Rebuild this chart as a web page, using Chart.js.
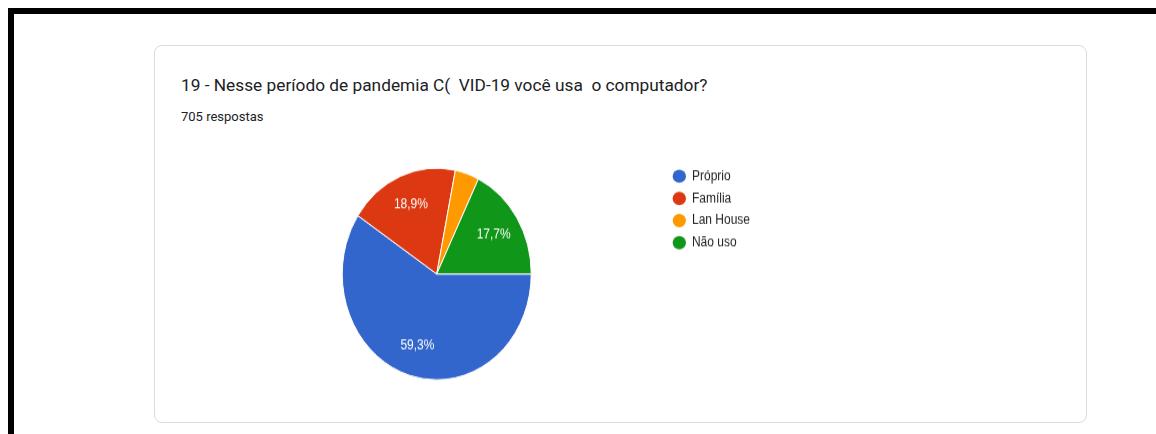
<!DOCTYPE html>
<html>
<head>
<meta charset="utf-8">
<script src="https://cdn.jsdelivr.net/npm/chart.js@4"></script>
<style>
  html, body { margin:0; padding:0; background:#fff; }
  body { width:1156px; height:434px; position:relative; overflow:hidden; font-family: Roboto, Arial, sans-serif; }
  .bar-top { position:absolute; left:8px; top:8px; width:1148px; height:6px; background:#000; }
  .bar-left { position:absolute; left:8px; top:8px; width:6px; height:426px; background:#000; }
  .card { position:absolute; left:154px; top:45px; width:931px; height:376px; border:1px solid #dadce0; border-radius:8px; box-sizing:content-box; }
  .title { position:absolute; left:181px; top:74.5px; font-size:17.3px; line-height:20px; color:#202124; white-space:pre; }
  .sub { position:absolute; left:181px; top:108.5px; font-size:13px; line-height:16px; color:#202124; }
  .chartbox { position:absolute; left:150px; top:150px; width:620px; height:240px; transform:scaleY(1.12); transform-origin:0 0; }
</style>
</head>
<body>
<div class="bar-top"></div>
<div class="bar-left"></div>
<div class="card"></div>
<div class="title">19 - Nesse período de pandemia C(  VID-19 você usa  o computador?</div>
<div class="sub">705 respostas</div>
<div class="chartbox"><canvas id="c"></canvas></div>
<script>
const categories = ['Próprio', 'Família', 'Lan House', 'Não uso'];
const responses = [418, 133, 29, 125];
const sliceColors = ['#3366cc', '#dc3912', '#ff9900', '#109618'];

const sliceLabels = {
  id: 'sliceLabels',
  afterDatasetsDraw(chart) {
    const ctx = chart.ctx;
    const meta = chart.getDatasetMeta(0);
    const data = chart.data.datasets[0].data;
    const total = data.reduce((a, b) => a + b, 0);
    meta.data.forEach((arc, i) => {
      const pct = data[i] / total * 100;
      if (pct < 5) return;
      const p = arc.getProps(['x', 'y', 'startAngle', 'endAngle', 'outerRadius'], true);
      const mid = (p.startAngle + p.endAngle) / 2;
      const r = p.outerRadius * 0.71;
      ctx.save();
      ctx.fillStyle = '#ffffff';
      ctx.font = '12px "Liberation Sans", Arial, sans-serif';
      ctx.textAlign = 'center';
      ctx.textBaseline = 'middle';
      ctx.fillText(pct.toFixed(1).replace('.', ',') + '%', p.x + Math.cos(mid) * r, p.y + Math.sin(mid) * r);
      ctx.restore();
    });
  }
};

new Chart(document.getElementById('c'), {
  type: 'pie',
  data: {
    labels: categories,
    datasets: [{
      data: responses,
      backgroundColor: sliceColors,
      borderColor: '#ffffff',
      borderWidth: 1
    }]
  },
  options: {
    responsive: true,
    maintainAspectRatio: false,
    animation: false,
    rotation: 90,
    radius: 94.5,
    layout: { padding: { left: 58.6, top: 9.6, right: 10, bottom: 28.2 } },
    plugins: {
      tooltip: { enabled: false },
      legend: {
        position: 'right',
        align: 'start',
        labels: {
          usePointStyle: true,
          pointStyle: 'circle',
          boxHeight: 8.4,
          pointStyleWidth: 13.3,
          padding: 7.8,
          color: '#222222',
          font: { size: 12, family: '"Liberation Sans", Arial, sans-serif' },
          generateLabels(chart) {
            const items = Chart.overrides.pie.plugins.legend.labels.generateLabels(chart);
            items.forEach(it => { it.lineWidth = 0; });
            return items;
          }
        }
      }
    }
  },
  plugins: [sliceLabels]
});
</script>
</body>
</html>
